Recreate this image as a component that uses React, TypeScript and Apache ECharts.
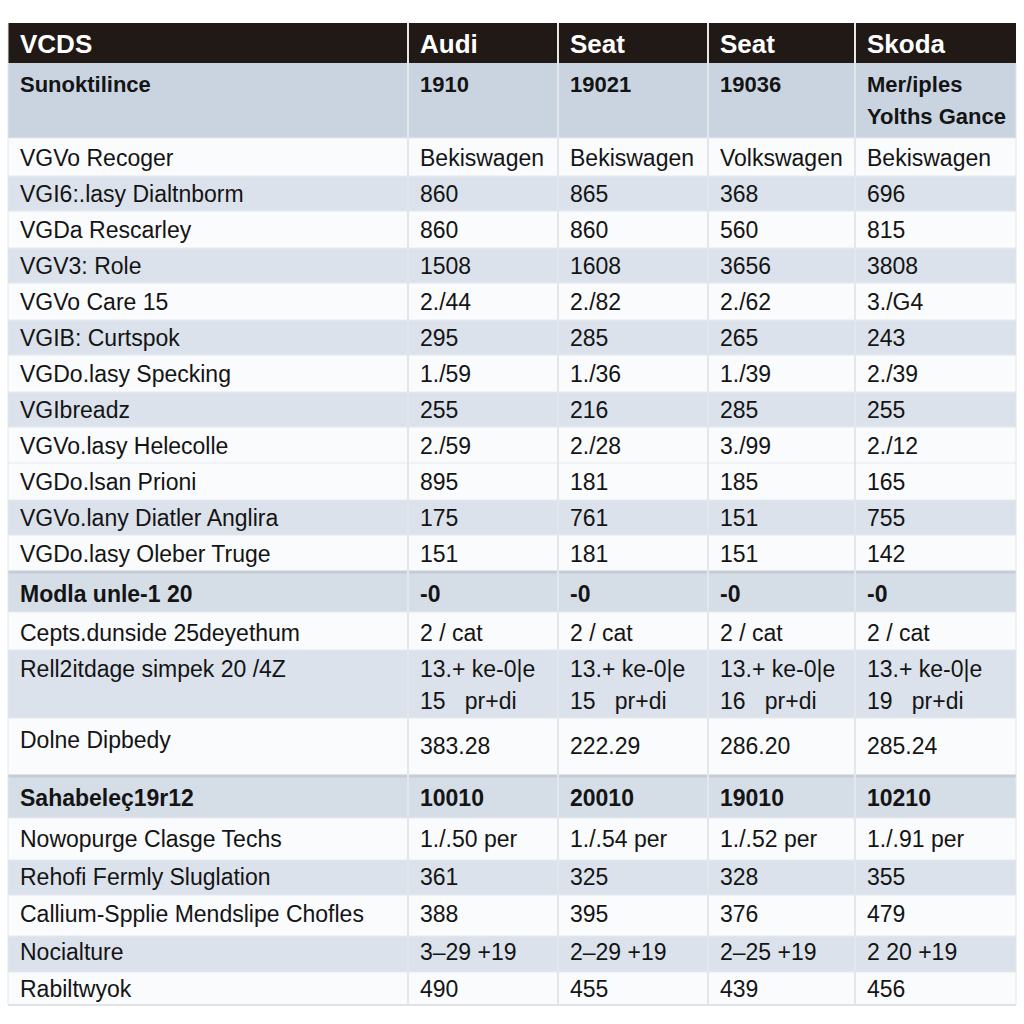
import React, { useEffect, useRef } from "react";
import * as echarts from "echarts";

// ---- data ----
const headers = ["VCDS", "Audi", "Seat", "Seat", "Skoda"];
const labels = [
  "Sunoktilince",
  "VGVo Recoger",
  "VGI6:.lasy Dialtnborm",
  "VGDa Rescarley",
  "VGV3: Role",
  "VGVo Care 15",
  "VGIB: Curtspok",
  "VGDo.lasy Specking",
  "VGIbreadz",
  "VGVo.lasy Helecolle",
  "VGDo.lsan Prioni",
  "VGVo.lany Diatler Anglira",
  "VGDo.lasy Oleber Truge",
  "Modla unle-1 20",
  "Cepts.dunside 25deyethum",
  "Rell2itdage simpek 20 /4Z",
  "Dolne Dipbedy",
  "Sahabeleç19r12",
  "Nowopurge Clasge Techs",
  "Rehofi Fermly Sluglation",
  "Callium-Spplie Mendslipe Chofles",
  "Nocialture",
  "Rabiltwyok",
];
const audi = ["1910", "Bekiswagen", "860", "860", "1508", "2./44", "295", "1./59", "255", "2./59", "895", "175", "151", "-0", "2 / cat", "13.+ ke-0|e\n15   pr+di", "383.28", "10010", "1./.50 per", "361", "388", "3–29 +19", "490"];
const seat1 = ["19021", "Bekiswagen", "865", "860", "1608", "2./82", "285", "1./36", "216", "2./28", "181", "761", "181", "-0", "2 / cat", "13.+ ke-0|e\n15   pr+di", "222.29", "20010", "1./.54 per", "325", "395", "2–29 +19", "455"];
const seat2 = ["19036", "Volkswagen", "368", "560", "3656", "2./62", "265", "1./39", "285", "3./99", "185", "151", "151", "-0", "2 / cat", "13.+ ke-0|e\n16   pr+di", "286.20", "19010", "1./.52 per", "328", "376", "2–25 +19", "439"];
const skoda = ["Mer/iples\nYolths Gance", "Bekiswagen", "696", "815", "3808", "3./G4", "243", "2./39", "255", "2./12", "165", "755", "142", "-0", "2 / cat", "13.+ ke-0|e\n19   pr+di", "285.24", "10210", "1./.91 per", "355", "479", "2 20 +19", "456"];
// row style: 0 white, 1 shaded, 2 strong shaded, 3 section shaded
const rowKinds = [2, 0, 1, 0, 1, 0, 1, 0, 1, 0, 0, 1, 0, 3, 0, 1, 0, 3, 0, 1, 0, 1, 0];
const boldRows = [0, 13, 17];

// ---- layout ----
const colX = [8, 408, 558, 708, 855, 1016];
const headerTop = 23;
const rowEdges = [63, 138, 176, 211, 248, 283, 320, 355, 392, 427, 463, 500, 535, 572, 612, 650, 718, 776, 818, 860, 895, 936, 972, 1005];
const textY = [84, 158, 194, 230, 266, 302, 338, 374, 410, 446, 482, 518, 554, 594, 633, 669, 740, 798, 839, 877, 914, 952, 989];
const valueYShift: Record<number, number> = { 16: 6 };

const FONT = '"Liberation Sans", Arial, Helvetica, sans-serif';
const fills = ["#fafbfc", "#dbe2eb", "#cad4e1", "#d5dde7"];

export default function App() {
  const ref = useRef<HTMLDivElement>(null);
  useEffect(() => {
    document.body.style.margin = "0";
    const chart = echarts.init(ref.current!, null, { renderer: "svg" });
    const els: any[] = [];
    // header
    els.push({ type: "rect", shape: { x: colX[0], y: headerTop, width: colX[5] - colX[0], height: rowEdges[0] - headerTop }, style: { fill: "#211916" } });
    headers.forEach((h, i) => {
      els.push({
        type: "text", x: i === 0 ? 20 : colX[i] + 12, y: 44,
        style: { text: h, fill: "#ffffff", fontSize: 26, fontWeight: "bold", fontFamily: FONT, textVerticalAlign: "middle" },
      });
    });
    // rows backgrounds
    labels.forEach((_, r) => {
      const y0 = rowEdges[r], y1 = rowEdges[r + 1];
      els.push({ type: "rect", shape: { x: colX[0], y: y0, width: colX[5] - colX[0], height: y1 - y0 }, style: { fill: fills[rowKinds[r]] } });
    });
    // horizontal lines
    labels.forEach((_, r) => {
      if (r === 0) return;
      const y = rowEdges[r];
      const strong = r === 13 || r === 17;
      els.push({ type: "line", shape: { x1: colX[0], y1: y, x2: colX[5], y2: y }, style: { stroke: strong ? "#c6ccd4" : "#e6e9ee", lineWidth: strong ? 3 : 1 } });
    });
    els.push({ type: "line", shape: { x1: colX[0], y1: rowEdges[rowEdges.length - 1], x2: colX[5], y2: rowEdges[rowEdges.length - 1] }, style: { stroke: "#dfe3e8", lineWidth: 2 } });
    // vertical dividers
    for (let c = 1; c < 5; c++) {
      els.push({ type: "line", shape: { x1: colX[c], y1: headerTop, x2: colX[c], y2: rowEdges[0] }, style: { stroke: "#e8e8e8", lineWidth: 2 } });
      els.push({ type: "line", shape: { x1: colX[c], y1: rowEdges[0], x2: colX[c], y2: rowEdges[rowEdges.length - 1] }, style: { stroke: "#e3e6eb", lineWidth: 2 } });
    }
    els.push({ type: "line", shape: { x1: colX[0], y1: headerTop, x2: colX[0], y2: rowEdges[rowEdges.length - 1] }, style: { stroke: "#e3e6eb", lineWidth: 1 } });
    els.push({ type: "line", shape: { x1: colX[5], y1: rowEdges[0], x2: colX[5], y2: rowEdges[rowEdges.length - 1] }, style: { stroke: "#e3e6eb", lineWidth: 1 } });
    // texts
    const cols = [audi, seat1, seat2, skoda];
    labels.forEach((lab, r) => {
      const bold = boldRows.includes(r);
      const size = r === 0 ? 22 : 23;
      const common = { fill: "#141414", fontSize: size, fontWeight: bold ? "bold" : "normal", fontFamily: FONT, textVerticalAlign: "middle" };
      els.push({ type: "text", x: 20, y: textY[r], style: { ...common, text: lab } });
      cols.forEach((col, c) => {
        const lines = col[r].split("\n");
        lines.forEach((ln, li) => {
          els.push({
            type: "text", x: colX[c + 1] + 12, y: textY[r] + (valueYShift[r] || 0) + li * 32,
            style: { ...common, text: ln },
          });
        });
      });
    });
    chart.setOption({ animation: false, backgroundColor: "#ffffff", graphic: { elements: els } });
    return () => chart.dispose();
  }, []);
  return <div ref={ref} style={{ width: 1024, height: 1024 }} />;
}
